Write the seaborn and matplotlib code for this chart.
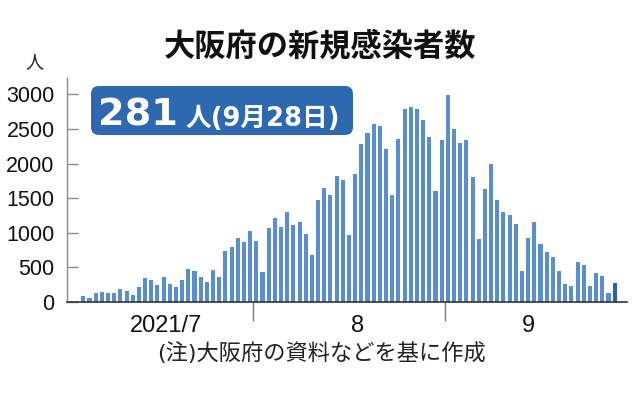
import matplotlib
matplotlib.use("Agg")
import matplotlib.pyplot as plt
from matplotlib import font_manager
from matplotlib.patches import FancyBboxPatch
from matplotlib.transforms import IdentityTransform
import pandas as pd
import seaborn as sns

# ---- data ----
dates = pd.date_range("2021-07-04", "2021-09-28", freq="D")
july = [84, 65, 131, 146, 123, 137, 195, 160, 98, 218,
        340, 315, 247, 368, 257, 218, 311, 478, 449, 368,
        282, 459, 368, 734, 788, 922, 874, 1027]
august = [883, 435, 1071, 1221, 1081, 1298, 1114, 1153, 984, 686,
          1481, 1644, 1553, 1818, 1760, 961, 1847, 2285, 2435, 2579,
          2545, 2212, 1553, 2357, 2790, 2819, 2796, 2631, 2381, 1601,
          2338]
september = [2995, 2493, 2299, 2338, 1808, 912, 1640, 2001, 1481, 1298,
             1254, 1134, 441, 932, 1153, 845, 724, 652, 455, 262,
             233, 579, 532, 228, 416, 373, 132, 281]
cases = july + august + september
month_labels = ["2021/7", "8", "9"]
y_ticks = [0, 500, 1000, 1500, 2000, 2500, 3000]
title = "大阪府の新規感染者数"
note = "(注)大阪府の資料などを基に作成"
highlight_num = "281"
highlight_txt = "人(9月28日)"

sns.set_theme(style="white")
CJK = ["Noto Sans CJK JP", "DejaVu Sans"]
LATIN_CJK = ["DejaVu Sans", "Noto Sans CJK JP"]
plt.rcParams["font.family"] = CJK

names = {f.name for f in font_manager.fontManager.ttflist}
NUM = "Liberation Sans" if "Liberation Sans" in names else "DejaVu Sans"
NARROW = "Liberation Sans Narrow" if "Liberation Sans Narrow" in names else NUM

df = pd.DataFrame({
    "date": [d.strftime("%m-%d") for d in dates],
    "cases": cases,
    "last": ["y" if i == len(cases) - 1 else "n" for i in range(len(cases))],
})

W, H = 638, 396
fig = plt.figure(figsize=(W / 100, H / 100), dpi=100)
ax = fig.add_axes([67 / W, 1 - 302 / H, (627 - 67) / W, (302 - 78) / H])

sns.barplot(data=df, x="date", y="cases", hue="last",
            palette={"n": "#5a8fcf", "y": "#2b62ab"}, legend=False,
            width=0.66, linewidth=0, saturation=1, ax=ax)

ax.set_xlim(-2.64, 88.0)
ax.set_ylim(0, 3237)
ax.set_xlabel("")
ax.set_ylabel("")

# spines
for s in ["top", "right"]:
    ax.spines[s].set_visible(False)
ax.spines["left"].set_color("#8a8a8a")
ax.spines["left"].set_linewidth(1.0)
ax.spines["bottom"].set_color("#333333")
ax.spines["bottom"].set_linewidth(1.2)

# y ticks
ax.set_yticks(y_ticks)
ax.set_yticklabels([str(v) for v in y_ticks], fontfamily=NUM, fontsize=15.5, color="#111111")
ax.tick_params(axis="y", direction="in", length=8, width=1, color="#8a8a8a", pad=9, left=True)

# x ticks: month boundaries (major) and month labels (minor)
ax.set_xticks([27.5, 58.5])
ax.set_xticklabels(["", ""])
ax.tick_params(axis="x", which="major", direction="out", length=14, width=1,
               color="#777777", bottom=True)
ax.set_xticks([13.4, 44.4, 72.1], minor=True)
ax.set_xticklabels(month_labels, minor=True, fontfamily=NARROW, fontsize=17, color="#111111")
ax.tick_params(axis="x", which="minor", length=0, pad=9, bottom=True)

# title, unit, note
fig.text(320 / W, 1 - 46 / H, title, ha="center", va="center",
         fontsize=22.5, fontweight="bold", family=CJK, color="#111111")
fig.text(34 / W, 1 - 62 / H, "人", ha="center", va="center",
         fontsize=13, family=CJK, color="#222222")
fig.text(157 / W, 1 - 353 / H, note, ha="left", va="center",
         fontsize=16, family=LATIN_CJK, color="#222222")

# highlight box
box = FancyBboxPatch((91, H - 135), 262, 49,
                     boxstyle="round,pad=0,rounding_size=8",
                     transform=IdentityTransform(), facecolor="#2e68b0",
                     edgecolor="none", zorder=5)
fig.patches.append(box)
fig.text(98 / W, 1 - 125.5 / H, highlight_num, ha="left", va="baseline",
         fontsize=27.5, fontweight="bold", family=["DejaVu Sans"], color="white", zorder=6)
fig.text(185 / W, 1 - 126.5 / H, highlight_txt, ha="left", va="baseline",
         fontsize=18.5, fontweight="bold", family=LATIN_CJK, color="white", zorder=6)

fig.savefig("out.png", dpi=100)
